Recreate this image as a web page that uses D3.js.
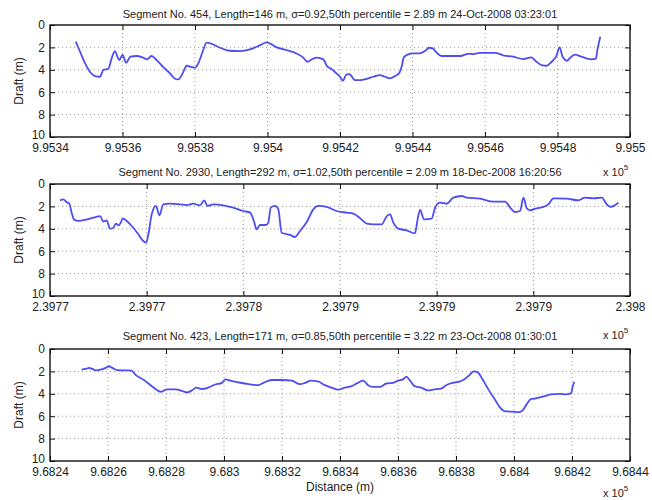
<!DOCTYPE html>
<html>
<head>
<meta charset="utf-8">
<script src="https://cdn.jsdelivr.net/npm/d3@7/dist/d3.min.js"></script>
<style>
  html, body { margin: 0; padding: 0; background: #fff; }
  svg { display: block; font-family: "Liberation Sans", Arial, sans-serif; }
</style>
</head>
<body>
<svg id="chart" width="652" height="500"></svg>
<script>
// Ice draft profiles along three track segments (distance in m, draft in m).

const TITLES = [
  "Segment No. 454, Length=146 m, \u03c3=0.92,50th percentile = 2.89 m 24-Oct-2008 03:23:01",
  "Segment No. 2930, Length=292 m, \u03c3=1.02,50th percentile = 2.09 m 18-Dec-2008 16:20:56",
  "Segment No. 423, Length=171 m, \u03c3=0.85,50th percentile = 3.22 m 23-Oct-2008 01:30:01"
];

const Y_TICKS = [0, 2, 4, 6, 8, 10];

const X_TICKS_1 = [995340, 995360, 995380, 995400, 995420, 995440, 995460, 995480, 995500];
const X_LABELS_1 = ["9.9534", "9.9536", "9.9538", "9.954", "9.9542", "9.9544", "9.9546", "9.9548", "9.955"];

const X_TICKS_2 = [239770, 239775, 239780, 239785, 239790, 239795, 239800];
const X_LABELS_2 = ["2.3977", "2.3977", "2.3978", "2.3979", "2.3979", "2.3979", "2.398"];

const X_TICKS_3 = [968240, 968260, 968280, 968300, 968320, 968340, 968360, 968380, 968400, 968420, 968440];
const X_LABELS_3 = ["9.6824", "9.6826", "9.6828", "9.683", "9.6832", "9.6834", "9.6836", "9.6838", "9.684", "9.6842", "9.6844"];

// Segment 454
const DIST_1 = [995347.1, 995348.3, 995349.7, 995351.0, 995352.4, 995353.8, 995354.7, 995356.1, 995357.0, 995357.9,
  995358.6, 995359.1, 995360.0, 995361.0, 995362.2, 995363.9, 995365.7, 995366.8, 995368.0, 995369.4,
  995371.2, 995373.1, 995374.4, 995375.4, 995376.6, 995377.7, 995378.8, 995380.0, 995380.9, 995382.1,
  995383.2, 995384.2, 995386.9, 995389.6, 995392.4, 995395.2, 995398.0, 995399.8, 995400.6, 995402.6,
  995405.2, 995408.0, 995409.8, 995411.0, 995412.2, 995413.6, 995415.4, 995416.4, 995417.8, 995419.0,
  995420.0, 995420.8, 995421.8, 995422.6, 995424.1, 995425.6, 995427.4, 995429.2, 995431.0, 995432.4,
  995433.8, 995435.2, 995436.4, 995437.0, 995437.6, 995438.8, 995440.2, 995442.0, 995443.4, 995444.6,
  995445.6, 995446.6, 995448.0, 995450.4, 995453.2, 995455.4, 995456.8, 995458.6, 995460.4, 995462.8,
  995465.0, 995467.8, 995470.6, 995472.8, 995474.2, 995475.6, 995477.0, 995478.4, 995479.6, 995480.6,
  995481.4, 995482.6, 995483.6, 995484.8, 995486.2, 995488.0, 995489.4, 995490.6, 995491.0, 995491.8];
const DRAFT_1 = [1.49, 2.39, 3.43, 4.17, 4.56, 4.62, 4.02, 3.90, 2.98, 2.33,
  2.83, 3.13, 2.68, 3.37, 2.83, 2.77, 2.92, 3.07, 2.77, 3.13,
  3.73, 4.32, 4.77, 4.86, 4.32, 3.64, 3.73, 3.82, 3.43, 2.39,
  1.58, 1.64, 2.03, 2.30, 2.33, 2.18, 1.79, 1.55, 1.64, 2.00,
  2.24, 2.54, 2.89, 3.28, 3.07, 2.92, 3.07, 3.67, 3.96, 4.32,
  4.62, 4.98, 4.40, 4.38, 4.92, 4.92, 4.80, 4.62, 4.47, 4.62,
  4.77, 4.56, 4.26, 3.73, 2.89, 2.63, 2.54, 2.54, 2.33, 2.03,
  2.09, 2.45, 2.77, 2.77, 2.77, 2.57, 2.60, 2.48, 2.48, 2.48,
  2.71, 2.83, 3.04, 2.89, 3.28, 3.58, 3.64, 3.28, 2.83, 2.00,
  2.83, 3.19, 2.89, 2.65, 2.77, 2.98, 3.07, 3.01, 2.24, 1.05];

// Segment 2930
const DIST_2 = [239770.52, 239770.69, 239770.83, 239771.00, 239771.12, 239771.24, 239771.47, 239771.81, 239772.24, 239772.59,
  239772.76, 239772.93, 239773.10, 239773.28, 239773.41, 239773.54, 239773.66, 239773.76, 239773.97, 239774.23,
  239774.57, 239774.79, 239774.97, 239775.09, 239775.26, 239775.48, 239775.66, 239775.86, 239776.21, 239776.73,
  239777.07, 239777.42, 239777.76, 239777.98, 239778.14, 239778.45, 239778.97, 239779.48, 239780.00, 239780.35,
  239780.52, 239780.69, 239780.86, 239781.17, 239781.29, 239781.42, 239781.64, 239781.81, 239781.98, 239782.42,
  239782.67, 239782.93, 239783.28, 239783.62, 239783.88, 239784.31, 239784.83, 239785.35, 239785.69, 239786.04,
  239786.38, 239786.73, 239787.16, 239787.42, 239787.59, 239787.76, 239788.02, 239788.45, 239788.88, 239789.00,
  239789.14, 239789.35, 239789.74, 239789.92, 239790.17, 239790.52, 239790.86, 239791.30, 239791.55, 239792.24,
  239792.93, 239793.54, 239793.80, 239794.05, 239794.31, 239794.49, 239794.66, 239794.83, 239795.17, 239795.52,
  239795.78, 239796.04, 239796.73, 239797.33, 239797.67, 239798.11, 239798.54, 239798.80, 239799.00, 239799.23,
  239799.40];
const DRAFT_2 = [1.46, 1.37, 1.58, 1.76, 2.56, 3.16, 3.30, 3.21, 3.01, 2.86,
  3.36, 3.24, 3.99, 3.90, 3.54, 3.69, 3.45, 3.07, 3.30, 3.75,
  4.49, 5.03, 5.24, 4.49, 2.71, 1.96, 2.80, 1.82, 1.76, 1.82,
  1.88, 1.76, 1.90, 1.46, 1.96, 1.82, 1.90, 2.11, 2.41, 2.56,
  3.16, 4.05, 3.66, 3.66, 3.45, 2.11, 1.96, 2.26, 4.35, 4.55,
  4.73, 4.20, 3.39, 2.26, 1.96, 2.05, 2.41, 2.56, 2.65, 3.05,
  3.54, 3.60, 3.60, 2.86, 2.71, 3.45, 3.99, 4.14, 4.40, 3.30,
  2.32, 3.15, 3.09, 2.11, 1.67, 1.76, 1.22, 1.07, 1.22, 1.31,
  1.58, 1.58, 2.11, 2.50, 2.41, 1.22, 2.17, 2.35, 2.17, 2.05,
  1.82, 1.28, 1.31, 1.46, 1.22, 1.28, 1.22, 1.82, 2.05, 1.88,
  1.67];

// Segment 423
const DIST_3 = [968250.9, 968252.3, 968253.5, 968254.6, 968255.8, 968257.5, 968259.2, 968260.3, 968261.5, 968263.2,
  968266.1, 968268.1, 968269.5, 968272.4, 968274.7, 968277.0, 968278.3, 968280.4, 968283.3, 968285.6,
  968287.3, 968289.0, 968290.4, 968292.4, 968294.5, 968297.0, 968299.3, 968300.5, 968302.2, 968305.0,
  968308.5, 968311.9, 968313.6, 968316.5, 968319.9, 968323.4, 968326.2, 968328.0, 968330.0, 968332.6,
  968334.8, 968337.1, 968339.4, 968341.7, 968344.0, 968346.2, 968348.0, 968349.7, 968351.4, 968353.7,
  968356.0, 968358.3, 968360.0, 968361.7, 968362.9, 968364.0, 968365.7, 968368.0, 968370.3, 968372.6,
  968374.9, 968376.6, 968378.9, 968381.2, 968382.9, 968384.7, 968386.1, 968387.5, 968389.3, 968391.0,
  968393.3, 968395.0, 968396.7, 968399.6, 968401.9, 968403.0, 968404.4, 968405.9, 968407.6, 968409.9,
  968412.8, 968415.7, 968417.9, 968419.7, 968420.2, 968420.8];
const DRAFT_3 = [1.85, 1.78, 1.69, 1.78, 1.91, 1.85, 1.69, 1.54, 1.69, 1.88,
  1.91, 1.94, 2.31, 2.77, 3.23, 3.69, 3.82, 3.60, 3.60, 3.75,
  3.88, 3.69, 3.45, 3.57, 3.45, 3.17, 3.02, 2.71, 2.83, 2.98,
  3.14, 3.23, 3.02, 2.77, 2.77, 2.83, 3.14, 3.02, 2.83, 2.92,
  3.23, 3.45, 3.63, 3.45, 3.32, 3.02, 2.83, 3.23, 3.38, 3.38,
  3.08, 3.02, 2.83, 2.71, 2.46, 2.77, 3.32, 3.45, 3.69, 3.60,
  3.54, 3.23, 3.02, 2.92, 2.71, 2.31, 2.00, 2.09, 2.77, 3.54,
  4.46, 5.17, 5.54, 5.60, 5.63, 5.48, 4.92, 4.46, 4.40, 4.25,
  4.06, 4.00, 4.06, 3.94, 3.38, 2.92];

const panels = [
  { title: TITLES[0], ticks: X_TICKS_1, labels: X_LABELS_1, dist: DIST_1, draft: DRAFT_1,
    top: 25, titleY: 17.5, expY: 176 },
  { title: TITLES[1], ticks: X_TICKS_2, labels: X_LABELS_2, dist: DIST_2, draft: DRAFT_2,
    top: 184, titleY: 175.5, expY: 339 },
  { title: TITLES[2], ticks: X_TICKS_3, labels: X_LABELS_3, dist: DIST_3, draft: DRAFT_3,
    top: 349, titleY: 339.5, expY: 497 }
];

const svg = d3.select("#chart");
const left = 50, right = 630, plotH = 112;
const tickLen = 5;

panels.forEach(p => {
  const x = d3.scaleLinear()
    .domain([p.ticks[0], p.ticks[p.ticks.length - 1]])
    .range([left, right]);
  const y = d3.scaleLinear().domain([0, 10]).range([p.top, p.top + plotH]);
  const bottom = p.top + plotH;

  const g = svg.append("g");

  // dotted grid
  g.append("g").selectAll("line.vx")
    .data(p.ticks.slice(1, -1)).join("line")
    .attr("x1", d => x(d)).attr("x2", d => x(d))
    .attr("y1", p.top).attr("y2", bottom)
    .attr("stroke", "#9a9a9a").attr("stroke-width", 1)
    .attr("stroke-dasharray", "1,3");
  g.append("g").selectAll("line.hy")
    .data(Y_TICKS.slice(1, -1)).join("line")
    .attr("x1", left).attr("x2", right)
    .attr("y1", d => y(d)).attr("y2", d => y(d))
    .attr("stroke", "#9a9a9a").attr("stroke-width", 1)
    .attr("stroke-dasharray", "1,3");

  // draft profile
  const line = d3.line()
    .x(d => x(d[0])).y(d => y(d[1]))
    .curve(d3.curveMonotoneX);
  g.append("path")
    .datum(d3.zip(p.dist, p.draft))
    .attr("d", line)
    .attr("fill", "none")
    .attr("stroke", "#4d4df2")
    .attr("stroke-width", 1.8)
    .attr("stroke-linejoin", "round");

  // axes with inward ticks
  const styleAxis = sel => {
    sel.select(".domain").remove();
    sel.selectAll(".tick line").attr("stroke", "#111").attr("stroke-width", 1);
    sel.selectAll(".tick text")
      .attr("fill", "#222")
      .style("font-size", "12px")
      .style("font-family", "'Liberation Sans', Arial, sans-serif");
  };

  g.append("g").attr("transform", `translate(0,${bottom})`)
    .call(d3.axisBottom(x).tickValues(p.ticks)
      .tickFormat((d, i) => p.labels[i]).tickSize(-tickLen).tickPadding(6))
    .call(styleAxis);
  g.append("g").attr("transform", `translate(0,${p.top})`)
    .call(d3.axisTop(x).tickValues(p.ticks).tickFormat("").tickSize(-tickLen))
    .call(styleAxis);
  const yAxis = g.append("g").attr("transform", `translate(${left},0)`)
    .call(d3.axisLeft(y).tickValues(Y_TICKS).tickFormat(d3.format("d"))
      .tickSize(-tickLen).tickPadding(5))
    .call(styleAxis);
  // lift the lowest depth label clear of the distance labels
  yAxis.selectAll(".tick text").filter(d => d === 10).attr("dy", "0.1em");
  g.append("g").attr("transform", `translate(${right},0)`)
    .call(d3.axisRight(y).tickValues(Y_TICKS).tickFormat("").tickSize(-tickLen))
    .call(styleAxis);

  // frame
  g.append("rect")
    .attr("x", left).attr("y", p.top)
    .attr("width", right - left).attr("height", plotH)
    .attr("fill", "none").attr("stroke", "#111").attr("stroke-width", 1.4);

  // title
  g.append("text")
    .attr("x", (left + right) / 2).attr("y", p.titleY)
    .attr("text-anchor", "middle")
    .style("font-size", "11px").attr("fill", "#222")
    .text(p.title);

  // y label
  g.append("text")
    .attr("transform", `translate(23,${p.top + plotH / 2}) rotate(-90)`)
    .attr("text-anchor", "middle")
    .style("font-size", "12px").attr("fill", "#222")
    .text("Draft (m)");

  // axis multiplier
  const ex = g.append("text")
    .attr("x", 603).attr("y", p.expY)
    .style("font-size", "11px").attr("fill", "#222");
  ex.append("tspan").text("x 10");
  ex.append("tspan").attr("dy", -6).style("font-size", "8px").text("5");
});

svg.append("text")
  .attr("x", (left + right) / 2).attr("y", 491)
  .attr("text-anchor", "middle")
  .style("font-size", "12px").attr("fill", "#222")
  .text("Distance (m)");
</script>
</body>
</html>
